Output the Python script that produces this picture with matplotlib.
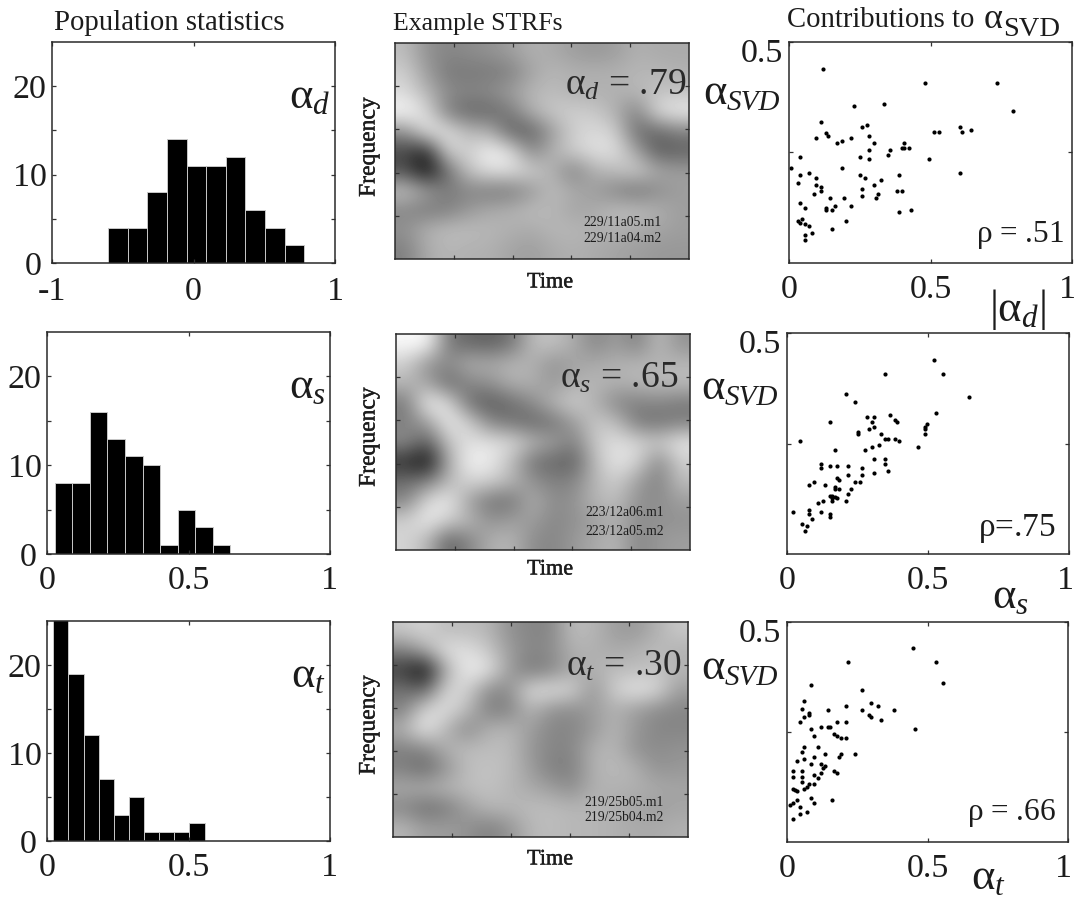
import numpy as np
import matplotlib
matplotlib.use('Agg')
from matplotlib import pyplot as plt
from matplotlib import patheffects
from matplotlib.transforms import ScaledTranslation

plt.rcParams['font.family'] = ['Liberation Serif', 'DejaVu Serif']
plt.rcParams['mathtext.fontset'] = 'custom'
plt.rcParams['mathtext.rm'] = 'Liberation Serif'
plt.rcParams['mathtext.it'] = 'Liberation Serif:italic'
plt.rcParams['mathtext.bf'] = 'Liberation Serif:bold'

W, H = 1078, 897
INK = '#1c1c1c'

# histogram counts
hist_d_start, hist_d_width = -0.604, 0.1387
hist_d = [4, 4, 8, 14, 11, 11, 12, 6, 4, 2]
hist_s_start, hist_s_width = 0.028, 0.0619
hist_s = [8, 8, 16, 13, 11, 10, 1, 5, 3, 1]
hist_t_start, hist_t_width = 0.022, 0.0535
hist_t = [26, 19, 12, 7, 3, 5, 1, 1, 1, 2]

# scatter values
abs_d_x = [.121, .480, .735, .791, .334, .228, .113, .259, .276, .130, .138, .097, .170, .186, .219, .284, .301,
           .284, .251, .284, .350, .358, .407, .399, .407, .423, .513, .529, .603, .611, .644, .496, .603, .039,
           .007, .186, .039, .072, .097, .031, .097, .113, .113, .088, .251, .268, .325, .301, .259, .259, .316,
           .308, .390, .382, .399, .390, .432, .146, .195, .162, .219, .039, .055, .130, .130, .153, .203, .153,
           .031, .039, .047, .055, .072, .080, .055, .055]
abs_d_y = [.438, .407, .407, .344, .360, .355, .318, .308, .313, .293, .287, .282, .271, .277, .282, .287, .271,
           .256, .240, .235, .245, .256, .271, .261, .261, .261, .297, .297, .308, .297, .302, .235, .203, .240,
           .214, .214, .198, .203, .193, .182, .177, .172, .162, .156, .198, .193, .187, .177, .167, .151, .156,
           .146, .198, .162, .162, .115, .119, .146, .146, .130, .130, .135, .125, .125, .120, .119, .094, .078,
           .094, .091, .099, .088, .083, .068, .063, .051]
s_x = [.521, .554, .349, .644, .209, .242, .152, .284, .309, .365, .382, .390, .300, .309, .292, .251, .251, .333,
       .349, .357, .382, .398, .496, .488, .488, .488, .530, .463, .046, .169, .275, .300, .325, .309, .349, .349,
       .357, .309, .119, .119, .152, .177, .217, .267, .267, .217, .177, .184, .242, .259, .079, .096, .136, .169,
       .169, .184, .226, .217, .152, .161, .161, .169, .177, .161, .209, .128, .111, .021, .079, .079, .087, .119,
       .152, .152, .054, .071, .063]
s_y = [.439, .407, .407, .355, .361, .345, .298, .309, .309, .314, .303, .298, .298, .288, .282, .277, .272, .272,
       .261, .261, .261, .256, .293, .288, .282, .272, .319, .241, .256, .236, .236, .241, .246, .215, .215, .204,
       .188, .183, .204, .194, .199, .199, .199, .194, .178, .178, .173, .168, .163, .163, .157, .163, .157, .152,
       .147, .147, .147, .136, .131, .131, .126, .129, .126, .120, .120, .120, .116, .095, .100, .090, .079, .095,
       .090, .084, .069, .063, .053]
t_x = [.448, .530, .218, .555, .087, .268, .062, .053, .078, .078, .062, .045, .145, .210, .268, .300, .325, .382,
       .292, .300, .333, .210, .178, .120, .145, .153, .087, .457, .095, .168, .178, .193, .210, .062, .112, .053,
       .136, .095, .062, .037, .087, .120, .136, .128, .193, .185, .243, .168, .178, .020, .053, .020, .053, .053,
       .095, .112, .120, .095, .078, .070, .062, .020, .028, .037, .087, .095, .160, .037, .020, .012, .045, .070,
       .045, .020]
t_y = [.440, .409, .409, .362, .356, .346, .320, .303, .293, .288, .283, .272, .299, .309, .299, .315, .309, .299,
       .288, .283, .277, .272, .272, .262, .262, .262, .257, .257, .241, .246, .241, .236, .236, .215, .215, .205,
       .199, .194, .189, .183, .178, .178, .173, .168, .199, .194, .199, .162, .157, .162, .162, .147, .147, .136,
       .152, .146, .157, .131, .131, .126, .121, .121, .119, .115, .099, .089, .095, .095, .089, .084, .079, .068,
       .063, .052]

# grey levels
strf_d = [
    [175, 140, 130, 135, 140, 150, 165, 160, 150, 145, 150, 165, 160, 160],
    [190, 150, 120, 120, 120, 125, 155, 170, 165, 165, 165, 170, 170, 165],
    [200, 170, 135, 130, 135, 150, 170, 175, 165, 165, 165, 170, 180, 180],
    [225, 200, 125, 105, 105, 120, 165, 185, 190, 185, 165, 125, 200, 215],
    [140, 210, 205, 170, 165, 100, 100, 150, 190, 200, 190, 110, 105, 125],
    [80, 50, 195, 190, 220, 205, 130, 165, 190, 205, 205, 155, 95, 100],
    [85, 30, 110, 180, 205, 205, 190, 165, 125, 165, 175, 190, 160, 150],
    [180, 150, 120, 130, 120, 120, 145, 175, 160, 150, 130, 115, 135, 150],
    [130, 120, 125, 145, 160, 165, 175, 170, 155, 160, 175, 175, 165, 150],
    [140, 165, 175, 175, 170, 165, 160, 170, 170, 165, 165, 160, 155, 150],
    [125, 160, 170, 165, 165, 155, 150, 160, 165, 160, 155, 150, 145, 145]]
strf_s = [
    [225, 225, 120, 105, 100, 115, 175, 180, 160, 130, 150, 125, 175, 140],
    [190, 140, 135, 165, 160, 170, 165, 140, 155, 160, 165, 170, 165, 170],
    [170, 155, 105, 130, 140, 165, 165, 145, 165, 170, 165, 170, 175, 175],
    [120, 220, 200, 110, 95, 110, 135, 170, 190, 165, 130, 125, 130, 120],
    [125, 150, 215, 190, 130, 115, 105, 115, 150, 185, 175, 120, 115, 125],
    [135, 95, 180, 205, 205, 200, 170, 150, 125, 185, 205, 195, 185, 210],
    [60, 30, 160, 220, 215, 175, 115, 105, 100, 175, 210, 195, 130, 190],
    [110, 125, 170, 195, 190, 170, 140, 125, 130, 170, 190, 150, 125, 175],
    [130, 200, 215, 150, 115, 115, 165, 135, 140, 170, 175, 140, 135, 150],
    [190, 215, 190, 170, 140, 150, 150, 130, 140, 150, 165, 135, 140, 140],
    [195, 170, 100, 130, 165, 170, 135, 130, 145, 160, 170, 130, 145, 150]]
strf_t = [
    [185, 195, 175, 175, 170, 140, 130, 130, 175, 170, 150, 145, 165, 185],
    [125, 160, 205, 205, 185, 150, 130, 135, 165, 165, 160, 165, 175, 165],
    [70, 25, 160, 215, 210, 150, 120, 130, 160, 165, 175, 175, 180, 170],
    [115, 100, 195, 195, 135, 135, 200, 205, 195, 140, 190, 210, 200, 150],
    [125, 195, 205, 175, 125, 125, 170, 140, 135, 150, 165, 150, 135, 130],
    [165, 215, 170, 130, 165, 170, 150, 130, 130, 145, 170, 145, 130, 130],
    [125, 130, 165, 175, 175, 175, 145, 130, 130, 165, 170, 140, 135, 140],
    [125, 105, 140, 175, 180, 175, 150, 125, 125, 165, 175, 165, 140, 145],
    [160, 165, 170, 175, 180, 170, 160, 150, 135, 165, 165, 165, 160, 155],
    [130, 110, 120, 150, 170, 170, 175, 175, 170, 170, 165, 155, 150, 155],
    [170, 150, 150, 140, 125, 140, 170, 175, 170, 170, 165, 160, 160, 165]]


def make_axes(fig, x0, y0, x1, y1):
	ax = fig.add_axes([x0 / W, 1 - y1 / H, (x1 - x0) / W, (y1 - y0) / H])
	for s in ax.spines.values():
		s.set_linewidth(1.1)
		s.set_color('#2a2a2a')
	ax.tick_params(direction='in', top=True, right=True, length=3, width=0.9, color='#333333',
		labelsize=24.5, labelcolor=INK)
	ax.tick_params(axis='x', pad=8)
	ax.tick_params(axis='y', pad=4)
	return ax


def put(fig, x, y, s, size, **kw):
	return fig.text(x / W, 1 - y / H, s, fontsize=size, color=kw.pop('color', INK), va=kw.pop('va', 'center'),
		ha=kw.pop('ha', 'left'), **kw)


def draw_hist(fig, box, start, width, counts, xlim, xticks, xlabels, name, xpad=8):
	ax = make_axes(fig, *box)
	ax.tick_params(axis='x', pad=xpad)
	edges = start + width * np.arange(len(counts))
	ax.bar(edges, counts, width=width, align='edge', color='black', edgecolor='#c8c8c8', linewidth=0.7)
	ax.set_xlim(xlim)
	ax.set_ylim(0, 25)
	ax.set_xticks(xticks)
	ax.set_xticklabels(xlabels)
	ax.set_yticks([0, 5, 10, 15, 20])
	ax.set_yticklabels(['0', '', '10', '', '20'])
	# the 0 on the y axis stands clear to the left of the x axis labels
	lab = ax.get_yticklabels()[0]
	lab.set_transform(lab.get_transform() + ScaledTranslation(-0.05, 0, fig.dpi_scale_trans))
	ax.text(0.985, 0.75, name, transform=ax.transAxes, ha='right', va='center', fontsize=32, color=INK)
	return ax


def draw_strf(fig, box, img):
	ax = make_axes(fig, *box)
	ax.imshow(np.array(img), cmap='gray', vmin=20, vmax=230, interpolation='bicubic', aspect='auto',
		extent=[0, 1, 0, 1])
	ax.set_xticks([.2, .4, .6, .8])
	ax.set_yticks([.2, .4, .6, .8])
	ax.set_xticklabels([])
	ax.set_yticklabels([])
	return ax


def draw_scatter(fig, box, x, y):
	ax = make_axes(fig, *box)
	ax.scatter(x, y, s=9, color='black', linewidths=0, clip_on=False)
	ax.set_xlim(0, 1)
	ax.set_ylim(0, 0.5)
	ax.set_xticks([0, .5, 1])
	ax.set_xticklabels(['0', '0.5', '1'])
	ax.set_yticks([.25, .5])
	ax.set_yticklabels(['', '0.5'])
	# 0.5 sits a bit below its tick, the last x label is pulled in from the edge
	lab = ax.get_yticklabels()[1]
	lab.set_transform(lab.get_transform() + ScaledTranslation(0, -0.08, fig.dpi_scale_trans))
	lab = ax.get_xticklabels()[2]
	lab.set_transform(lab.get_transform() + ScaledTranslation(-0.04, 0, fig.dpi_scale_trans))
	return ax


fig = plt.figure(figsize=(W / 100, H / 100), dpi=100)

draw_hist(fig, (52, 42, 335, 263), hist_d_start, hist_d_width, hist_d, (-1, 1), [-1, 0, 1], ['-1', '0', '1'],
	r'$\mathrm{\alpha}_{d}$', xpad=10)
draw_hist(fig, (47, 332, 330, 554), hist_s_start, hist_s_width, hist_s, (0, 1), [0, .5, 1], ['0', '0.5', '1'],
	r'$\mathrm{\alpha}_{s}$')
draw_hist(fig, (47, 621, 330, 841), hist_t_start, hist_t_width, hist_t, (0, 1), [0, .5, 1], ['0', '0.5', '1'],
	r'$\mathrm{\alpha}_{t}$')

draw_strf(fig, (395, 43, 689, 259), strf_d)
draw_strf(fig, (396, 334, 690, 550), strf_s)
draw_strf(fig, (393, 622, 688, 837), strf_t)

draw_scatter(fig, (789, 42, 1072, 263), abs_d_x, abs_d_y)
draw_scatter(fig, (787, 333, 1069, 554), s_x, s_y)
draw_scatter(fig, (787, 622, 1068, 842), t_x, t_y)

# column titles
put(fig, 54, 23, 'Population statistics', 20.7)
put(fig, 393, 24, 'Example STRFs', 18.5)
put(fig, 787, 20, 'Contributions to', 20.7)
put(fig, 984, 20, '\u03b1', 26)
put(fig, 1003, 29, 'SVD', 20.5)

# STRF labels
dark = '#2a2a2a'
put(fig, 565, 85, r'$\mathrm{\alpha}_{d}$ = .79', 27, color=dark)
put(fig, 560, 378, r'$\mathrm{\alpha}_{s}$ = .65', 27, color=dark)
put(fig, 566, 666, r'$\mathrm{\alpha}_{t}$ = .30', 27, color=dark)
for x, y, s in [(583, 222, '229/11a05.m1'), (583, 238, '229/11a04.m2'),
		(585, 512, '223/12a06.m1'), (585, 531, '223/12a05.m2'),
		(584, 802, '219/25b05.m1'), (584, 817, '219/25b04.m2')]:
	put(fig, x, y, s, 9.8)
stroke = [patheffects.withStroke(linewidth=0.3, foreground=INK)]
for x, y in [(527, 283), (527, 570), (527, 860)]:
	put(fig, x, y, 'Time', 16, path_effects=stroke)
for x, y in [(369, 147), (369, 437), (369, 725)]:
	put(fig, x, y, 'Frequency', 17, rotation=90, ha='center', path_effects=stroke)

# scatter labels
for x, y in [(703, 103), (701, 398), (701, 678)]:
	put(fig, x, y - 10, '\u03b1', 32)
	put(fig, x + 24, y, 'SVD', 21, style='italic')
put(fig, 976, 235, r'$\mathrm{\rho}$ = .51', 22.5)
put(fig, 978, 528, r'$\mathrm{\rho}$=.75', 24)
put(fig, 967, 813, r'$\mathrm{\rho}$ = .66', 22.5)
put(fig, 989, 309, r'$|\mathrm{\alpha}_{d}|$', 32)
put(fig, 992, 597, r'$\mathrm{\alpha}_{s}$', 32)
put(fig, 971, 878, r'$\mathrm{\alpha}_{t}$', 32)

fig.savefig('out.png', dpi=100)
